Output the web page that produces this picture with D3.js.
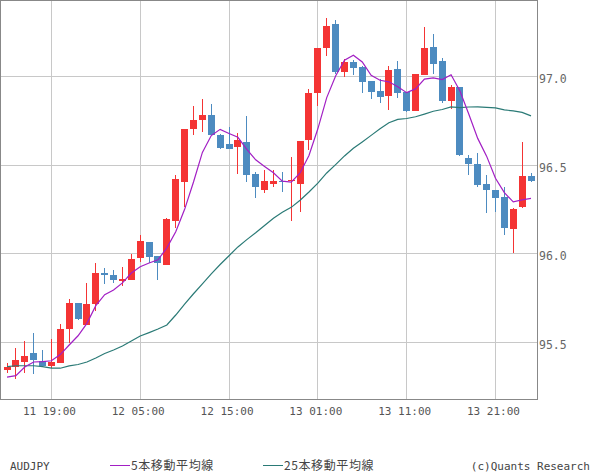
<!DOCTYPE html>
<html><head><meta charset="utf-8">
<script src="https://cdn.jsdelivr.net/npm/d3@7"></script>
<style>body{margin:0;background:#fff} svg{display:block}</style>
</head><body><svg id="c" width="600" height="475"></svg>
<script>
const opens=[95.347,95.360,95.392,95.441,95.396,95.369,95.386,95.578,95.723,95.600,
95.719,95.892,95.881,95.849,95.852,95.978,96.067,95.988,95.939,96.185,
96.405,96.706,96.756,96.783,96.672,96.619,96.602,96.631,96.450,96.360,
96.394,96.411,96.408,96.394,96.642,96.907,97.161,97.296,97.025,97.082,
97.054,96.975,96.918,96.890,97.042,96.913,96.807,97.008,97.166,97.087,
96.864,96.941,96.540,96.507,96.394,96.360,96.321,96.142,96.266,96.441];
const highs=[95.384,95.469,95.508,95.554,95.458,95.520,95.604,95.745,95.725,95.836,
95.948,95.920,95.909,95.926,95.999,96.106,96.069,95.990,96.202,96.445,
96.704,96.834,96.873,96.845,96.674,96.715,96.681,96.777,96.461,96.473,
96.473,96.461,96.546,96.636,96.930,97.161,97.330,97.319,97.099,97.093,
97.059,96.977,96.986,97.059,97.087,96.915,97.014,97.279,97.240,97.104,
96.952,96.943,96.557,96.569,96.445,96.362,96.379,96.259,96.631,96.456];
const lows=[95.330,95.294,95.330,95.324,95.364,95.358,95.384,95.499,95.627,95.598,
95.679,95.832,95.834,95.820,95.850,95.954,95.948,95.852,95.937,96.146,
96.264,96.670,96.687,96.670,96.591,96.591,96.450,96.405,96.315,96.343,
96.377,96.349,96.185,96.236,96.586,96.834,97.116,97.014,96.997,97.008,
96.907,96.873,96.851,96.811,96.879,96.800,96.805,97.006,97.014,96.852,
96.818,96.553,96.446,96.379,96.232,96.238,96.108,96.003,96.260,96.407];
const closes=[95.362,95.401,95.424,95.401,95.369,95.390,95.576,95.723,95.633,95.717,
95.892,95.882,95.854,95.858,95.971,96.072,95.984,95.947,96.196,96.422,
96.702,96.755,96.783,96.672,96.597,96.593,96.642,96.445,96.377,96.411,
96.411,96.405,96.416,96.636,96.907,97.161,97.285,97.025,97.082,97.048,
96.969,96.913,96.884,97.037,96.907,96.805,97.014,97.161,97.070,96.864,
96.941,96.555,96.508,96.390,96.362,96.317,96.147,96.253,96.441,96.409];
const ma5=[95.305,95.313,95.362,95.390,95.392,95.397,95.432,95.486,95.538,95.608,
95.708,95.770,95.796,95.836,95.892,95.927,95.948,95.966,96.034,96.124,
96.251,96.405,96.572,96.667,96.702,96.679,96.657,96.589,96.530,96.493,
96.457,96.410,96.404,96.456,96.555,96.705,96.881,97.003,97.092,97.120,
97.082,97.007,96.979,96.970,96.942,96.909,96.930,96.985,96.992,96.983,
97.010,96.918,96.787,96.651,96.551,96.426,96.345,96.293,96.304,96.313];
const ma25=[95.364,95.369,95.369,95.369,95.364,95.355,95.355,95.368,95.376,95.390,
95.413,95.438,95.458,95.480,95.508,95.537,95.556,95.576,95.599,95.655,
95.717,95.775,95.831,95.887,95.940,95.989,96.039,96.080,96.119,96.160,
96.201,96.234,96.262,96.302,96.349,96.399,96.456,96.503,96.552,96.595,
96.631,96.668,96.705,96.739,96.758,96.763,96.773,96.788,96.804,96.814,
96.829,96.825,96.828,96.829,96.826,96.823,96.812,96.806,96.798,96.778];
const yTicks=[95.5,96.0,96.5,97.0];
const xTickIdx=[5,15,25,35,45,55];
const xTickLabels=["11 19:00","12 05:00","12 15:00","13 01:00","13 11:00","13 21:00"];
const symbol="AUDJPY";
const seriesNames=["5本移動平均線","25本移動平均線"];
const credit="(c)Quants Research";

const UP="#f43434", DOWN="#4d8bc0", C5="#a21fc4", C25="#2a7a76";
const svg=d3.select("#c");
const W=537,H=399;
const x=d3.scaleLinear().domain([0,59]).range([7,531]);
const y=d3.scaleLinear().domain([95.5,97.0]).range([342.5,76.5]);
const crisp=v=>Math.floor(v)+0.5;
const mono="'DejaVu Sans Mono', monospace";

const grid=svg.append("g").attr("shape-rendering","crispEdges");
grid.selectAll("line.h").data(yTicks).join("line").attr("class","h")
  .attr("x1",0).attr("x2",W).attr("y1",d=>crisp(y(d))).attr("y2",d=>crisp(y(d)))
  .attr("stroke","#c8c8c8");
grid.selectAll("line.v").data(xTickIdx).join("line").attr("class","v")
  .attr("y1",0).attr("y2",H).attr("x1",d=>crisp(x(d))).attr("x2",d=>crisp(x(d)))
  .attr("stroke","#c8c8c8");

const idx=d3.range(opens.length);
const cg=svg.append("g").attr("shape-rendering","crispEdges");
cg.selectAll("line.w").data(idx).join("line").attr("class","w")
  .attr("x1",i=>Math.floor(x(i))+0.5).attr("x2",i=>Math.floor(x(i))+0.5)
  .attr("y1",i=>Math.round(y(highs[i]))).attr("y2",i=>Math.round(y(lows[i])))
  .attr("stroke",i=>closes[i]>=opens[i]?UP:DOWN);
cg.selectAll("rect.b").data(idx).join("rect").attr("class","b")
  .attr("x",i=>Math.floor(x(i))-3).attr("width",7)
  .attr("y",i=>Math.round(y(Math.max(opens[i],closes[i]))))
  .attr("height",i=>Math.max(1,Math.round(y(Math.min(opens[i],closes[i])))-Math.round(y(Math.max(opens[i],closes[i])))))
  .attr("fill",i=>closes[i]>=opens[i]?UP:DOWN);

const line=d3.line().x((d,i)=>x(i)).y(d=>y(d));
svg.append("path").datum(ma25).attr("d",line).attr("fill","none").attr("stroke",C25).attr("stroke-width",1.2);
svg.append("path").datum(ma5).attr("d",line).attr("fill","none").attr("stroke",C5).attr("stroke-width",1.2);

svg.append("rect").attr("x",0.5).attr("y",0.5).attr("width",W).attr("height",H)
  .attr("fill","none").attr("stroke","#888").attr("shape-rendering","crispEdges");

svg.selectAll("text.yl").data(yTicks).join("text").attr("class","yl")
  .attr("x",539).attr("y",d=>y(d)+6.5).text(d=>d3.format(".1f")(d))
  .attr("font-family",mono).attr("font-size","11.5px").attr("fill","#666");
svg.selectAll("text.xl").data(xTickIdx).join("text").attr("class","xl")
  .attr("x",d=>x(d)-2).attr("y",415).attr("text-anchor","middle").text((d,i)=>xTickLabels[i])
  .attr("font-family",mono).attr("font-size","11px").attr("fill","#555");

const lg=svg.append("g");
lg.append("text").attr("x",10).attr("y",470).text(symbol)
  .attr("font-family",mono).attr("font-size","11px").attr("fill","#444");
lg.append("line").attr("x1",110).attr("x2",130).attr("y1",465.5).attr("y2",465.5).attr("stroke",C5);
lg.append("text").attr("x",131).attr("y",470).text(seriesNames[0])
  .attr("font-family","'Noto Sans CJK JP', sans-serif").attr("font-size","12px").attr("letter-spacing","0.6px").attr("fill","#444");
lg.append("line").attr("x1",263).attr("x2",283).attr("y1",465.5).attr("y2",465.5).attr("stroke",C25);
lg.append("text").attr("x",284).attr("y",470).text(seriesNames[1])
  .attr("font-family","'Noto Sans CJK JP', sans-serif").attr("font-size","12px").attr("letter-spacing","0.6px").attr("fill","#444");
lg.append("text").attr("x",590).attr("y",470).attr("text-anchor","end").text(credit)
  .attr("font-family",mono).attr("font-size","11px").attr("fill","#444");
</script></body></html>
